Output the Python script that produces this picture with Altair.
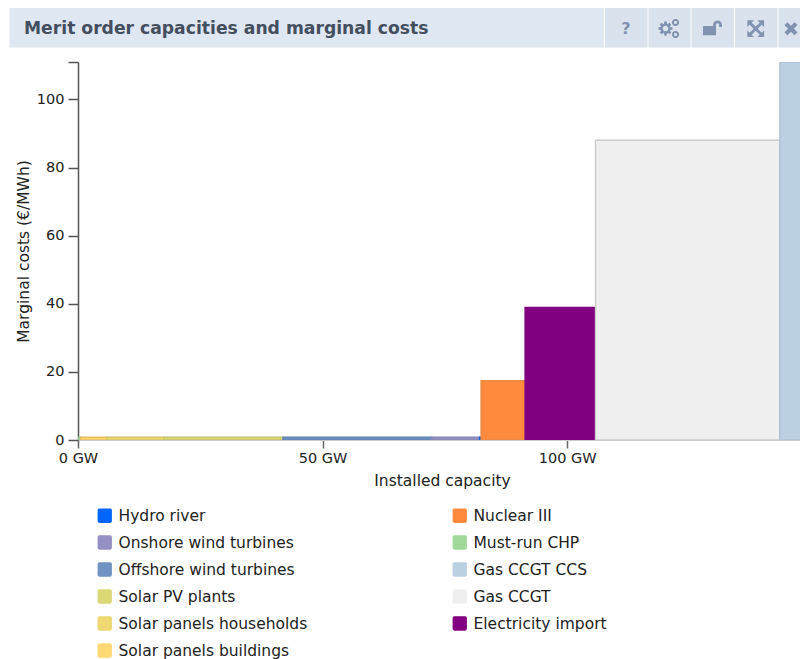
import math

import altair as alt
import pandas as pd

FONT = "DejaVu Sans"

# Merit order, in the order the bars follow along the x axis
order = ["Must-run CHP", "Solar panels buildings", "Solar panels households", "Solar PV plants",
         "Offshore wind turbines", "Onshore wind turbines", "Hydro river", "Nuclear III",
         "Electricity import", "Gas CCGT", "Gas CCGT CCS"]
capacity_gw = [0.55, 5.45, 11.6, 24.3, 30.4, 9.8, 0.3, 9.0, 14.4, 37.7, 5.5]
marginal_cost = [0.8, 0.8, 0.8, 0.8, 0.8, 0.8, 0.8, 17.4, 38.9, 88.0, 111.0]
stroke_colors = ["#8fc48a", "#e8bd5e", "#d9c665", "#c5c466", "#5f82b4", "#8a84b8", "#0f5fe0",
                 "#e88a45", "#800080", "#cccccc", "#aebfd2"]

# Legend, read column by column
legend_names = ["Hydro river", "Onshore wind turbines", "Offshore wind turbines", "Solar PV plants",
                "Solar panels households", "Solar panels buildings",
                "Nuclear III", "Must-run CHP", "Gas CCGT CCS", "Gas CCGT", "Electricity import"]
legend_colors = ["#0066ff", "#9590c4", "#7193c4", "#dbd976", "#eed872", "#ffd974",
                 "#ff8a3d", "#a0d89a", "#bcd0e4", "#efefef", "#800080"]

x_ticks = [0, 50, 100]
y_ticks = [0, 20, 40, 60, 80, 100, 111]
title_text = "Merit order capacities and marginal costs"

rows, start = [], 0.0
for n, w, c, s in zip(order, capacity_gw, marginal_cost, stroke_colors):
    rows.append({"name": n, "x0": start, "x1": start + w, "cost": c, "edge": s})
    start += w
df = pd.DataFrame(rows)

one = pd.DataFrame({"a": [0]})
OX, OY = 78, 62  # page position of the plot origin
ICON = "#8193b0"


def band(x0, x1, color):
    return alt.Chart(one).mark_rect(color=color).encode(
        x=alt.value(x0 - OX), x2=alt.value(x1 - OX),
        y=alt.value(8 - OY), y2=alt.value(47.5 - OY))


def icon_path(path, x, size, y=28.5):
    return alt.Chart(one).mark_point(shape=path, size=size, filled=True, color=ICON,
                                     opacity=1, strokeWidth=0).encode(
        x=alt.value(x - OX), y=alt.value(y - OY))


def poly(pts):
    return "M" + " L".join(f"{x:.3f} {y:.3f}" for x, y in pts) + " Z"


def ring(inner):
    """A round washer, drawn as two opposite-wound polygons."""
    outer = [(math.cos(i * math.pi / 12), math.sin(i * math.pi / 12)) for i in range(24)]
    hole = [(inner * c, -inner * s) for c, s in outer]
    return poly(outer) + " " + poly(hole)


def gear(teeth=8, inner=0.4):
    pts = []
    for i in range(teeth):
        a = 2 * math.pi * i / teeth
        for da, r in [(-0.30, 0.72), (-0.17, 1.0), (0.17, 1.0), (0.30, 0.72)]:
            pts.append((r * math.cos(a + da), r * math.sin(a + da)))
    hole = [(inner * math.cos(-i * math.pi / 8), inner * math.sin(-i * math.pi / 8)) for i in range(16)]
    return poly(pts) + " " + poly(hole)


LOCK = ("M-1 -0.2 L0.37 -0.2 L0.37 0.75 L-1 0.75 Z "
        "M0.05 -0.2 L0.05 -0.3 C0.05 -0.95 1 -0.95 1 -0.3 L1 -0.1 L0.7 -0.1 L0.7 -0.3 "
        "C0.7 -0.55 0.35 -0.55 0.35 -0.3 L0.35 -0.2 Z")
EXPAND = ("M-1 -1 L-0.2 -1 L-0.48 -0.72 L0 -0.25 L0.48 -0.72 L0.2 -1 L1 -1 L1 -0.2 L0.72 -0.48 "
          "L0.25 0 L0.72 0.48 L1 0.2 L1 1 L0.2 1 L0.48 0.72 L0 0.25 L-0.48 0.72 L-0.2 1 L-1 1 "
          "L-1 0.2 L-0.72 0.48 L-0.25 0 L-0.72 -0.48 L-1 -0.2 Z")
CROSS = ("M-1 -0.55 L-0.55 -1 L0 -0.45 L0.55 -1 L1 -0.55 L0.45 0 L1 0.55 L0.55 1 L0 0.45 "
         "L-0.55 1 L-1 0.55 L-0.45 0 Z")

chrome = [
    band(9.5, 604, "#dfe7f2"),
    band(605, 647.5, "#dae2ee"),
    band(648.5, 690.5, "#dae2ee"),
    band(691.5, 734, "#dae2ee"),
    band(735, 777.5, "#dae2ee"),
    band(778.5, 800, "#dae2ee"),
    alt.Chart(one).mark_text(text=title_text, font=FONT, fontSize=17.2, fontWeight="bold",
                             color="#434e5e", align="left", baseline="middle").encode(
        x=alt.value(24 - OX), y=alt.value(28.5 - OY)),
    alt.Chart(one).mark_text(text="?", font=FONT, fontSize=16, fontWeight="bold", color=ICON,
                             align="center", baseline="middle").encode(
        x=alt.value(626 - OX), y=alt.value(29 - OY)),
    icon_path(gear(), 665.5, 200, y=28.5),
    icon_path(ring(0.45), 675.5, 50, y=22.5),
    icon_path(ring(0.45), 675.5, 50, y=34.5),
    icon_path(LOCK, 712.5, 361, y=28),
    icon_path(EXPAND, 755.7, 280, y=28.7),
    icon_path(CROSS, 791, 170, y=28.7),
]

bars = alt.Chart(df).mark_rect(clip=True, strokeWidth=1.4).encode(
    x=alt.X("x0:Q", scale=alt.Scale(domain=[0, 147.6], nice=False, zero=False),
            axis=alt.Axis(values=x_ticks, labelExpr="datum.value + ' GW'",
                          title="Installed capacity", titleFont=FONT, titleFontSize=15.5,
                          titleFontWeight="normal", titleColor="#222222", titlePadding=9,
                          titleX=364,
                          labelFont=FONT, labelFontSize=14.5, labelColor="#222222", labelPadding=3,
                          tickSize=8, tickColor="#666666", tickWidth=1.5, grid=False,
                          domain=True, domainColor="#cccccc", labelFlush=False,
                          labelOverlap=False)),
    x2="x1:Q",
    y=alt.Y("cost:Q", scale=alt.Scale(domain=[0, 111], nice=False),
            axis=alt.Axis(values=y_ticks, labelExpr="datum.value >= 111 ? '' : datum.label",
                          title="Marginal costs (€/MWh)", titleFont=FONT, titleFontSize=15.5,
                          titleFontWeight="normal", titleColor="#222222", titlePadding=5,
                          labelFont=FONT, labelFontSize=14.5, labelColor="#222222", labelPadding=4,
                          tickSize=10, tickColor="#555555", tickWidth=1.5, grid=False,
                          domain=True, domainColor="#555555", domainWidth=1.5,
                          labelOverlap=False)),
    y2=alt.datum(0),
    fill=alt.Fill("name:N", scale=alt.Scale(domain=legend_names, range=legend_colors),
                  legend=alt.Legend(orient="none", legendX=19, legendY=445.5, columns=2, title=None,
                                    symbolType="M-1 -0.75 Q-1 -1 -0.75 -1 L0.75 -1 Q1 -1 1 -0.75 L1 0.75 Q1 1 0.75 1 L-0.75 1 Q-1 1 -1 0.75 Z",
                                    symbolSize=205, symbolStrokeWidth=0, symbolOpacity=1,
                                    labelFont=FONT, labelFontSize=15.5, labelColor="#222222",
                                    labelOffset=6, labelLimit=300, rowPadding=10,
                                    columnPadding=144, padding=0, clipHeight=16)),
    stroke=alt.Stroke("edge:N", scale=None),
)

chart = alt.layer(*chrome, bars).properties(
    width=722, height=378, background="white",
    autosize=alt.AutoSizeParams(type="none", contains="content"),
    padding={"left": OX - 8, "top": OY - 8, "right": 0, "bottom": 221},
).configure_view(stroke=None)

chart.save("out.html", embed_options={"renderer": "svg", "actions": False})
